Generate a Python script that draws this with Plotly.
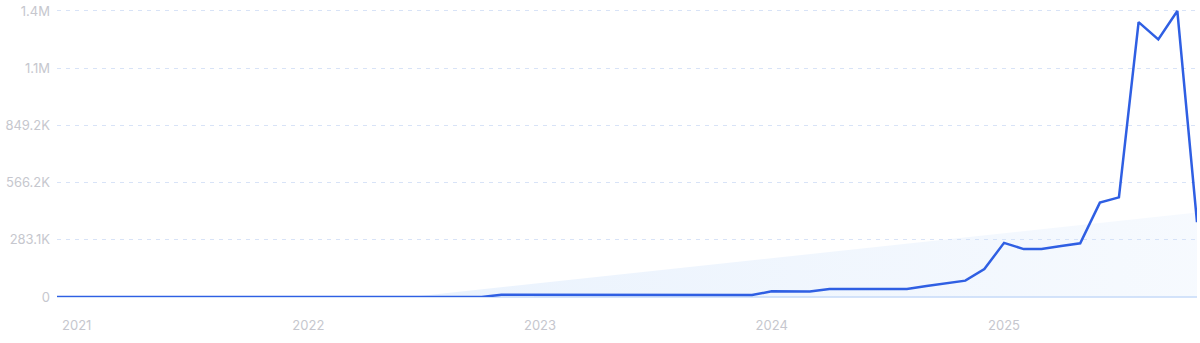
import plotly.graph_objects as go
import pandas as pd

# Monthly series, Dec 2020 .. Nov 2025
months = pd.date_range("2020-12-01", "2025-11-01", freq="MS").strftime("%Y-%m-%d").tolist()
values = [
    0, 0, 0, 0, 0, 0, 0, 0, 0, 0, 0, 0,          # 2020-12 .. 2021-11
    0, 0, 0, 0, 0, 0, 0, 0, 0, 0, 0,             # 2021-12 .. 2022-10
    11000, 11000, 11000, 11000, 11000, 11000, 11000, 11000, 11000, 11000, 11000, 11000, 11000,  # 2022-11 .. 2023-11
    9500,                                        # 2023-12
    28000, 28000, 27000,                         # 2024-01 .. 2024-03
    40000, 40000, 40000, 40000, 40000,           # 2024-04 .. 2024-08
    54000, 67000, 81000, 138000,                 # 2024-09 .. 2024-12
    268000, 237000, 237000, 252000, 266000,      # 2025-01 .. 2025-05
    467000, 493000, 1360000, 1275000, 1415400,   # 2025-06 .. 2025-10
    370000,                                      # 2025-11
]

# Trend band (start where it crosses zero, end at last month)
trend_dates = ["2022-06-11", "2025-11-01"]
trend_values = [0, 418000]

y_tickvals = [0, 283080, 566160, 849240, 1132320, 1415400]
y_ticktext = ["0", "283.1K", "566.2K", "849.2K", "1.1M", "1.4M"]
x_tickvals = ["2021-01-01", "2022-01-01", "2023-01-01", "2024-01-01", "2025-01-01"]
x_ticktext = ["2021", "2022", "2023", "2024", "2025"]

fig = go.Figure()
fig.add_trace(go.Scatter(
    x=trend_dates, y=trend_values, mode="lines",
    line=dict(width=0, color="rgba(0,0,0,0)"),
    fill="tozeroy",
    fillgradient=dict(type="horizontal",
                      colorscale=[[0, "rgba(200,222,250,0.38)"], [1, "rgba(200,222,250,0.16)"]]),
    hoverinfo="skip", showlegend=False,
))
fig.add_trace(go.Scatter(
    x=months, y=values, mode="lines",
    line=dict(color="#2f5fe3", width=2.5),
    cliponaxis=False, showlegend=False,
))

fig.update_layout(
    width=1200, height=343,
    margin=dict(l=57, r=2.5, t=5.5, b=45.5),
    paper_bgcolor="white", plot_bgcolor="white",
    font=dict(family="Inter", size=13, color="#c6c7ce"),
    xaxis=dict(
        type="date", range=["2020-12-01", "2025-11-01"],
        tickvals=x_tickvals, ticktext=x_ticktext,
        showgrid=False, zeroline=False, showline=False,
        ticks="", ticklabelstandoff=19,
        tickfont=dict(size=13, color="#c6c7ce"),
    ),
    yaxis=dict(
        range=[0, 1425200],
        tickvals=y_tickvals, ticktext=y_ticktext,
        showgrid=True, gridcolor="#d8e3f7", griddash="4px,5px", gridwidth=1,
        zeroline=True, zerolinecolor="#d4e3fa", zerolinewidth=1.5,
        showline=False, ticks="", ticklabelstandoff=6,
        ticklabeloverflow="allow",
        tickfont=dict(size=13, color="#c6c7ce"),
    ),
)

fig.write_html("out.html")
